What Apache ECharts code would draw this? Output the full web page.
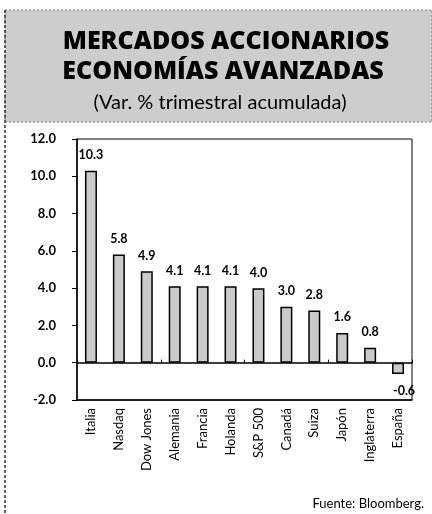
<!DOCTYPE html>
<html>
<head>
<meta charset="utf-8">
<script src="https://cdn.jsdelivr.net/npm/echarts@6/dist/echarts.min.js"></script>
<style>
html,body{margin:0;padding:0;background:#fff;}
#c{width:432px;height:514px;}
</style>
</head>
<body>
<div id="c"></div>
<script>
const categories = ['Italia','Nasdaq','Dow Jones','Alemania','Francia','Holanda','S&P 500','Canadá','Suiza','Japón','Inglaterra','España'];
const values = [10.3, 5.8, 4.9, 4.1, 4.1, 4.1, 4.0, 3.0, 2.8, 1.6, 0.8, -0.6];
const titleLines = ['MERCADOS ACCIONARIOS', 'ECONOMÍAS AVANZADAS'];
const subtitle = '(Var. % trimestral acumulada)';
const source = 'Fuente: Bloomberg.';

const chart = echarts.init(document.getElementById('c'), null, {renderer:'canvas'});
const font = 'Lato, "Open Sans", sans-serif';
chart.setOption({
  animation:false,
  backgroundColor:'#fff',
  grid:{left:77, right:20, top:139, bottom:114, show:true, borderColor:'#000', borderWidth:1, backgroundColor:'transparent'},
  xAxis:[{
    type:'category', data:categories, position:'bottom',
    axisLine:{onZero:false, lineStyle:{color:'#000', width:1.5}},
    axisTick:{show:false},
    axisLabel:{rotate:90, fontSize:13, color:'#000', fontFamily:font, margin:8, interval:0}
  },{
    type:'category', data:categories, position:'top',
    axisLine:{onZero:true, lineStyle:{color:'#000', width:1.5}},
    axisTick:{show:true, length:3, lineStyle:{color:'#000'}},
    axisLabel:{show:false}
  }],
  yAxis:{
    type:'value', min:-2, max:12, interval:2,
    axisLine:{show:true, lineStyle:{color:'#000', width:1.5}},
    axisTick:{show:true, length:5, lineStyle:{color:'#000'}},
    splitLine:{show:false},
    axisLabel:{formatter:v=>v.toFixed(1), fontSize:13, fontWeight:'bold', color:'#000', fontFamily:font, margin:21}
  },
  series:[{
    type:'bar', data:values.map(v=>v<0?{value:v,label:{position:'bottom',offset:[6,2]}}:v),
    barWidth:12,
    itemStyle:{color:'#cacaca', borderColor:'#000', borderWidth:1.5},
    label:{show:true, position:'top', distance:9, fontSize:12.5, fontWeight:'bold', color:'#000', fontFamily:font, formatter:p=>p.value.toFixed(1)}
  }],
  graphic:[
    {type:'rect', z:-1, shape:{x:5, y:10, width:427, height:112}, style:{fill:'#cdcdcd', stroke:'#777', lineWidth:1, lineDash:[2,2]}},
    {type:'line', shape:{x1:5, y1:10, x2:5, y2:514}, style:{stroke:'#333', lineWidth:1.5, lineDash:[3,2]}},
    {type:'text', x:226, y:42, style:{text:titleLines[0], font:'900 25px "Open Sans", sans-serif', fill:'#000', align:'center', verticalAlign:'middle'}},
    {type:'text', x:223, y:72, style:{text:titleLines[1], font:'900 25px "Open Sans", sans-serif', fill:'#000', align:'center', verticalAlign:'middle'}},
    {type:'text', x:220, y:103, style:{text:subtitle, font:'20px Lato, "Open Sans", sans-serif', fill:'#000', align:'center', verticalAlign:'middle'}},
    {type:'text', right:8, top:497, style:{text:source, font:'13px Lato, "Open Sans", sans-serif', fill:'#000'}}
  ]
});
</script>
</body>
</html>
